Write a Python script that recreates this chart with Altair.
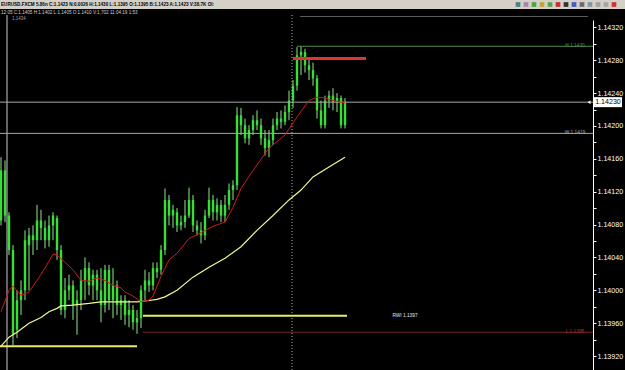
import altair as alt
import pandas as pd

# ---------------- data ----------------
opens = [1.14085, 1.14146, 1.14091, 1.14049, 1.13952, 1.13988, 1.14000, 1.14055, 1.14067, 1.14061,
         1.14085, 1.14076, 1.14061, 1.14079, 1.14088, 1.14049, 1.13976, 1.14000, 1.14006, 1.13982,
         1.13988, 1.14012, 1.14027, 1.14006, 1.14019, 1.14000, 1.13982, 1.14025, 1.13988, 1.14006,
         1.13982, 1.13988, 1.13970, 1.13976, 1.13961, 1.13966, 1.14000, 1.14012, 1.14006, 1.14027,
         1.14025, 1.14049, 1.14110, 1.14091, 1.14095, 1.14079, 1.14083, 1.14091, 1.14110, 1.14079,
         1.14073, 1.14067, 1.14091, 1.14110, 1.14095, 1.14104, 1.14091, 1.14104, 1.14122, 1.14128,
         1.14213, 1.14201, 1.14185, 1.14195, 1.14207, 1.14201, 1.14185, 1.14173, 1.14183, 1.14201,
         1.14209, 1.14205, 1.14217, 1.14231, 1.14249, 1.14286, 1.14290, 1.14274, 1.14268, 1.14258,
         1.14219, 1.14201, 1.14231, 1.14237, 1.14229, 1.14234, 1.14201]
highs = [1.14162, 1.14158, 1.14095, 1.14055, 1.14000, 1.14012, 1.14073, 1.14076, 1.14079, 1.14104,
         1.14098, 1.14085, 1.14091, 1.14095, 1.14091, 1.14055, 1.14015, 1.14019, 1.14012, 1.14000,
         1.14025, 1.14040, 1.14034, 1.14025, 1.14025, 1.14027, 1.14031, 1.14031, 1.14027, 1.14012,
         1.13994, 1.13994, 1.13988, 1.13982, 1.13976, 1.14006, 1.14025, 1.14022, 1.14034, 1.14034,
         1.14055, 1.14124, 1.14116, 1.14104, 1.14100, 1.14091, 1.14110, 1.14125, 1.14116, 1.14085,
         1.14083, 1.14098, 1.14125, 1.14116, 1.14112, 1.14110, 1.14116, 1.14130, 1.14134, 1.14223,
         1.14222, 1.14209, 1.14201, 1.14213, 1.14219, 1.14209, 1.14195, 1.14195, 1.14209, 1.14217,
         1.14219, 1.14225, 1.14243, 1.14256, 1.14296, 1.14297, 1.14294, 1.14282, 1.14277, 1.14262,
         1.14231, 1.14237, 1.14243, 1.14246, 1.14240, 1.14237, 1.14234]
lows = [1.14079, 1.14083, 1.14043, 1.13933, 1.13942, 1.13970, 1.13988, 1.14000, 1.14043, 1.14049,
        1.14061, 1.14051, 1.14053, 1.14061, 1.14037, 1.13970, 1.13966, 1.13988, 1.13964, 1.13946,
        1.13976, 1.13988, 1.13994, 1.13988, 1.13988, 1.13961, 1.13973, 1.13976, 1.13966, 1.13970,
        1.13964, 1.13958, 1.13955, 1.13952, 1.13947, 1.13954, 1.13988, 1.13998, 1.14000, 1.14015,
        1.14019, 1.14043, 1.14079, 1.14076, 1.14071, 1.14073, 1.14076, 1.14088, 1.14071, 1.14067,
        1.14057, 1.14061, 1.14088, 1.14085, 1.14085, 1.14083, 1.14083, 1.14098, 1.14110, 1.14122,
        1.14189, 1.14179, 1.14177, 1.14189, 1.14195, 1.14177, 1.14164, 1.14162, 1.14177, 1.14195,
        1.14197, 1.14201, 1.14207, 1.14222, 1.14243, 1.14262, 1.14265, 1.14256, 1.14249, 1.14209,
        1.14197, 1.14197, 1.14222, 1.14219, 1.14217, 1.14197, 1.14197]
closes = [1.14146, 1.14091, 1.14049, 1.13946, 1.13988, 1.14000, 1.14061, 1.14067, 1.14061, 1.14085,
          1.14076, 1.14061, 1.14079, 1.14091, 1.14049, 1.13976, 1.14000, 1.14006, 1.13982, 1.13988,
          1.14012, 1.14027, 1.14006, 1.14019, 1.14000, 1.13982, 1.14025, 1.13988, 1.14006, 1.13982,
          1.13988, 1.13970, 1.13976, 1.13961, 1.13966, 1.14000, 1.14012, 1.14006, 1.14027, 1.14022,
          1.14049, 1.14110, 1.14091, 1.14098, 1.14079, 1.14083, 1.14091, 1.14110, 1.14079, 1.14073,
          1.14067, 1.14091, 1.14110, 1.14095, 1.14104, 1.14091, 1.14104, 1.14122, 1.14128, 1.14213,
          1.14201, 1.14185, 1.14195, 1.14207, 1.14201, 1.14185, 1.14173, 1.14183, 1.14201, 1.14209,
          1.14205, 1.14217, 1.14231, 1.14249, 1.14286, 1.14290, 1.14274, 1.14268, 1.14258, 1.14219,
          1.14201, 1.14231, 1.14237, 1.14229, 1.14234, 1.14201, 1.14229]

red_idx = [0, 2, 3, 5, 7, 9, 11, 13, 14, 16, 18, 20, 22, 24, 26, 28, 30, 31, 33, 35,
           37, 38, 40, 42, 44, 47, 50, 53, 56, 58, 60, 63, 67, 71, 74, 77, 79, 81, 83, 86]
red_val = [1.13974, 1.14000, 1.14005, 1.13994, 1.13998, 1.14012, 1.14027, 1.14044, 1.14043, 1.14034,
           1.14025, 1.14012, 1.14011, 1.14015, 1.14012, 1.14006, 1.14003, 1.13998, 1.13993, 1.13986,
           1.13988, 1.13993, 1.14017, 1.14037, 1.14045, 1.14063, 1.14070, 1.14078, 1.14083, 1.14101,
           1.14124, 1.14146, 1.14173, 1.14189, 1.14211, 1.14231, 1.14235, 1.14234, 1.14231, 1.14228]
yellow_idx = [0, 2, 4, 7, 10, 12, 14, 15, 18, 22, 25, 30, 34, 36, 39, 41, 44, 48, 52, 56,
              60, 64, 68, 72, 75, 78, 82, 86]
yellow_val = [1.13932, 1.13943, 1.13949, 1.13960, 1.13967, 1.13974, 1.13978, 1.13981, 1.13982, 1.13984,
              1.13986, 1.13986, 1.13986, 1.13987, 1.13989, 1.13992, 1.14000, 1.14016, 1.14028, 1.14039,
              1.14053, 1.14073, 1.14091, 1.14110, 1.14122, 1.14138, 1.14150, 1.14162]

level_price = [1.14297, 1.14229, 1.14191, 1.13949, 1.13969, 1.13932, 1.14282]
level_from = [74, -0.25, -0.25, 35.5, 35.5, -0.25, 73]
level_to = [148, 148, 148, 148, 86.5, 34, 91.25]
level_color = ["#4f8f4f", "#a8a8a8", "#a8a8a8", "#7a2222", "#ecec60", "#ecec60", "#e23434"]
level_width = [1, 1, 1, 1, 2, 2, 3]

label_text = ["H 1.1430", "W 1.1419", "L 1.1395", "RWI 1.1397"]
label_idx = [143.5, 143.5, 143.5, 101]
label_price = [1.14297, 1.14191, 1.13949, 1.13969]
label_color = ["#4f8f4f", "#a8a8a8", "#b03030", "#e8e8e8"]

tick_values = [round(1.1392 + 0.0002 * k, 5) for k in range(21)]
last_price = 1.14229

header1 = "EURUSD.FXCM 5.86n C:1.1423 N:0.0026 H:1.1430 L:1.1395 O:1.1395 B:1.1423 A:1.1423 V:38.7K OI:"
header2 = "12:05 C:1.1405 H:1.1402 L:1.1405 O:1.1410 V:1,702 11:04:19 1:53"
icon_colors = ["#3a7a7a", "#a080a0", "#3aa03a", "#c0a020", "#40a040", "#c02020",
               "#202020", "#3050c0", "#606060", "#7090a0", "#9a9a9a", "#a0a0a0", "#d02020"]

# ---------------- frames ----------------
candles = pd.DataFrame({"i": list(range(len(opens))), "open": opens, "high": highs,
                        "low": lows, "close": closes})
red_ma = pd.DataFrame({"i": red_idx, "v": red_val})
yel_ma = pd.DataFrame({"i": yellow_idx, "v": yellow_val})
levels = pd.DataFrame({"p": level_price, "a": level_from, "b": level_to,
                       "c": level_color, "w": level_width})
labels = pd.DataFrame({"t": label_text, "i": label_idx, "p": label_price, "c": label_color})
one = pd.DataFrame({"k": [0]})
icons = pd.DataFrame({"k": list(range(len(icon_colors))), "c": icon_colors})

FONT = "Liberation Sans"
xs = alt.Scale(domain=[-0.25, 148], nice=False, zero=False)
ys = alt.Scale(domain=[1.13903, 1.14329], nice=False, zero=False)
yaxis = alt.Axis(
    orient="right", values=tick_values,
    labelExpr="round(datum.value*10000) % 4 == 0 ? format(datum.value, '.5f') : ''",
    title=None, grid=False, domainColor="#ffffff", tickColor="#ffffff",
    labelColor="#ffffff", labelFont=FONT, labelFontSize=7.1, tickSize=3,
    labelPadding=1, labelBound=False, labelOverlap=False, labelFlush=False)


def Y(field):
    return alt.Y(field, scale=ys, axis=yaxis)


def X(field):
    return alt.X(field, scale=xs, axis=None)


header_bar = alt.Chart(one).mark_rect(color="#d4d0c8").encode(
    x=alt.value(0), x2=alt.value(625), y=alt.value(-20), y2=alt.value(-11))
header_t1 = alt.Chart(one).mark_text(align="left", baseline="middle", font=FONT,
                                     fontSize=4.6, fontWeight="bold", color="#000000",
                                     text=header1).encode(x=alt.value(1), y=alt.value(-15.5))
header_t2 = alt.Chart(one).mark_text(align="left", baseline="middle", font=FONT,
                                     fontSize=4.6, color="#d0d0d0",
                                     text=header2).encode(x=alt.value(1), y=alt.value(-7.5))
vline_lbl = alt.Chart(one).mark_text(align="left", baseline="middle", font=FONT,
                                     fontSize=4.5, color="#a0a0a0",
                                     text="1.1434").encode(x=alt.value(12), y=alt.value(-1))
icon_layer = alt.Chart(icons).mark_square(size=22, opacity=0.9).transform_calculate(
    px="518 + datum.k * 8"
).encode(x=alt.X("px:Q", scale=None), y=alt.value(-15.5),
         color=alt.Color("c:N", scale=None))
top_line = alt.Chart(one).mark_rule(color="#5a5a5a", strokeWidth=1).encode(
    x=alt.value(300), x2=alt.value(588), y=alt.value(-3.5))

vsolid = alt.Chart(pd.DataFrame({"i": [1.5]})).mark_rule(color="#c8c8c8", strokeWidth=1).encode(
    x=X("i:Q"), y=alt.value(-5), y2=alt.value(350))
vdot = alt.Chart(pd.DataFrame({"i": [72.75]})).mark_rule(color="#b0b0b0", strokeWidth=1,
                                                          strokeDash=[1, 2]).encode(
    x=X("i:Q"), y=alt.value(-5), y2=alt.value(350))

level_layer = alt.Chart(levels).mark_rule().encode(
    x=X("a:Q"), x2="b:Q", y=Y("p:Q"),
    color=alt.Color("c:N", scale=None),
    strokeWidth=alt.StrokeWidth("w:Q", scale=None))

wicks = alt.Chart(candles).mark_rule(color="#8ee88e", strokeWidth=1).encode(
    x=X("i:Q"), y=Y("low:Q"), y2="high:Q")
bodies = alt.Chart(candles).mark_rule(color="#38dd38", strokeWidth=2.4).encode(
    x=X("i:Q"), y=Y("open:Q"), y2="close:Q")

red_line = alt.Chart(red_ma).mark_line(color="#d01a1a", strokeWidth=1).encode(
    x=X("i:Q"), y=Y("v:Q"))
yel_line = alt.Chart(yel_ma).mark_line(color="#f6f68e", strokeWidth=1.2).encode(
    x=X("i:Q"), y=Y("v:Q"))

label_layer = alt.Chart(labels).mark_text(font=FONT, fontSize=4.8, baseline="middle",
                                          align="center").encode(
    x=X("i:Q"), y=Y("p:Q"), text="t:N", color=alt.Color("c:N", scale=None))

last_df = pd.DataFrame({"p": [last_price], "t": ["1.14230"]})
price_box = alt.Chart(last_df).mark_tick(color="#ffffff", orient="horizontal", thickness=10,
                                         size=28, opacity=1).encode(
    x=alt.value(608), y=Y("p:Q"))
price_txt = alt.Chart(last_df).mark_text(font=FONT, fontSize=7.1, color="#000000",
                                         align="center", baseline="middle").encode(
    x=alt.value(608), y=Y("p:Q"), text="t:N")
arrow = alt.Chart(last_df).mark_point(shape="triangle-left", filled=True, size=12,
                                      color="#ffffff", opacity=1).encode(
    x=alt.value(589), y=Y("p:Q"))

chart = alt.layer(
    wicks, bodies, header_bar, header_t1, header_t2, icon_layer, top_line, vline_lbl,
    vsolid, vdot, level_layer, yel_line, red_line, label_layer,
    price_box, price_txt, arrow
).properties(
    width=593, height=350,
    padding={"left": 0, "top": 20, "right": 32, "bottom": 0},
    autosize=alt.AutoSizeParams(type="none"),
    background="#000000"
).configure_view(stroke=None)

chart.save("out.html", embed_options={"renderer": "svg", "actions": False})
